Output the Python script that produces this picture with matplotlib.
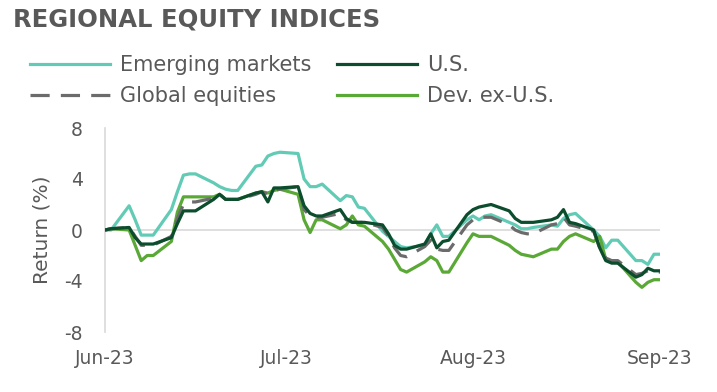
import pandas as pd
import matplotlib
matplotlib.use("Agg")
import matplotlib.pyplot as plt
import matplotlib.dates as mdates

# business days Jun 1 -> Sep 1 2023
dates = pd.bdate_range("2023-06-01", "2023-09-01")

# cumulative return (%)
emerging = [0.0, 0.0, 1.9, 0.8, -0.4, -0.4, -0.4, 1.6, 3.0, 4.3, 4.4, 4.4, 3.7, 3.4, 3.2, 3.1, 3.1, 5.0, 5.1, 5.8, 6.0, 6.1,
            6.0, 4.0, 3.4, 3.4, 3.6, 2.3, 2.7, 2.6, 1.8, 1.7, -0.1, -0.5, -0.9, -1.3, -1.4, -1.2, -0.3, 0.4, -0.5, -0.5, 0.8,
            1.1, 0.8, 1.1, 1.2, 0.6, 0.4, 0.1, 0.1, 0.2, 0.4, 0.3, 0.9, 1.2, 1.3, 0.0, -0.5, -1.4, -0.8, -0.8, -2.4, -2.4, -2.7, -1.9,
            -1.9]
us = [0.0, 0.1, 0.2, -0.6, -1.1, -1.1, -1.1, -0.6, 0.5, 1.5, 1.5, 1.5, 2.4, 2.8, 2.4, 2.4, 2.4, 2.9, 3.0, 2.2, 3.3, 3.3,
      3.4, 1.9, 1.3, 1.1, 1.1, 1.6, 0.9, 0.6, 0.6, 0.6, 0.4, -0.3, -1.2, -1.5, -1.5, -1.1, -0.3, -1.4, -0.9, -0.8, 1.2,
      1.6, 1.8, 1.9, 2.0, 1.5, 0.9, 0.6, 0.6, 0.6, 0.8, 1.0, 1.6, 0.6, 0.5, 0.0, -1.4, -2.4, -2.6, -2.6, -3.7, -3.5, -3.0, -3.2,
      -3.2]
global_eq = [0.0, 0.1, 0.2, -0.5, -1.2, -1.2, -1.2, -0.5, 0.9, 2.0, 2.2, 2.2, 2.5, 2.8, 2.4, 2.4, 2.4, 2.8, 3.0, 2.8, 3.1, 3.2,
             3.4, 1.6, 1.1, 1.0, 1.0, 1.3, 0.8, 0.6, 0.6, 0.6, 0.2, -0.5, -1.4, -2.0, -2.1, -1.3, -0.8, -1.5, -1.6, -1.6, 0.4,
             0.8, 1.0, 1.0, 1.0, 0.4, 0.0, -0.2, -0.3, -0.3, 0.4, 0.5, 1.0, 0.4, 0.3, -0.1, -1.4, -2.2, -2.4, -2.4, -3.5, -3.4, -3.2, -3.3,
             -3.3]
dev_ex_us = [0.0, 0.1, 0.0, -1.2, -2.4, -2.0, -2.0, -0.9, 1.4, 2.6, 2.6, 2.6, 2.6, 2.8, 2.4, 2.4, 2.4, 2.9, 3.0, 2.9, 3.1, 3.2,
             2.8, 0.8, -0.2, 0.8, 0.8, 0.1, 0.4, 1.1, 0.4, 0.3, -0.9, -1.5, -2.3, -3.1, -3.3, -2.5, -2.1, -2.4, -3.3, -3.3, -1.0,
             -0.3, -0.5, -0.5, -0.5, -1.2, -1.6, -1.9, -2.0, -2.1, -1.5, -1.5, -0.9, -0.5, -0.3, -0.9, -0.5, -2.3, -2.5, -2.5, -4.1, -4.5, -4.1, -3.9,
             -3.9]

y_ticks = [-8, -4, 0, 4, 8]
month_ticks = pd.to_datetime(["2023-06-01", "2023-07-01", "2023-08-01", "2023-09-01"])

text_grey = "#595959"
plt.rcParams["font.family"] = ["DejaVu Sans"]
plt.rcParams["axes.unicode_minus"] = False

fig = plt.figure(figsize=(7.17, 3.92), dpi=100)
ax = fig.add_axes([105 / 717, 1 - 332 / 392, 555 / 717, 204 / 392])

# zero reference line sits under the series
ax.axhline(0, color="#d9d9d9", lw=1.2, zorder=1)

line_em, = ax.plot(dates, emerging, color="#62cbb5", lw=2.3, label="Emerging markets", zorder=2)
line_dev, = ax.plot(dates, dev_ex_us, color="#5aa836", lw=2.3, label="Dev. ex-U.S.", zorder=3)
line_gl, = ax.plot(dates, global_eq, color="#6b6b6b", lw=2.3, dashes=(6, 3.5), label="Global equities", zorder=4)
line_us, = ax.plot(dates, us, color="#0b4d2d", lw=2.3, label="U.S.", zorder=5)

ax.set_ylim(-8, 8)
ax.set_xlim(dates[0], dates[-1])
ax.set_yticks(y_ticks)
ax.set_xticks(month_ticks)
ax.xaxis.set_major_formatter(mdates.DateFormatter("%b-%y"))
ax.tick_params(axis="y", length=0, pad=16, labelsize=13.5, labelcolor=text_grey)
ax.tick_params(axis="x", length=0, pad=12, labelsize=13.5, labelcolor=text_grey)
ax.set_ylabel("Return (%)", fontsize=14.5, color=text_grey, labelpad=9)

for side in ["top", "right", "bottom"]:
    ax.spines[side].set_visible(False)
ax.spines["left"].set_color("#d9d9d9")
ax.spines["left"].set_linewidth(1.2)

fig.text(13 / 717, 1 - 20 / 392, "REGIONAL EQUITY INDICES", fontsize=17.5, fontweight="bold",
         color=text_grey, va="center", ha="left")

# legend: column-wise fill gives EM / Global in col 1, U.S. / Dev in col 2
fig.legend(handles=[line_em, line_gl, line_us, line_dev], ncol=2, loc="upper left",
           bbox_to_anchor=(30 / 717, 1 - 55 / 392), frameon=False, fontsize=15,
           labelcolor=text_grey, handlelength=3.85, handletextpad=0.48, columnspacing=1.2,
           labelspacing=0.55, borderpad=0, borderaxespad=0)

fig.savefig("out.png", dpi=100)
